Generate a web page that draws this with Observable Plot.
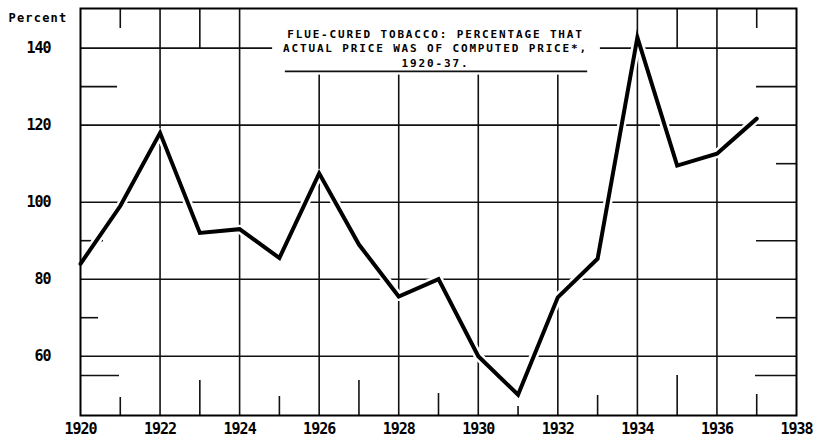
<!DOCTYPE html>
<html>
<head>
<meta charset="utf-8">
<script src="https://cdn.jsdelivr.net/npm/d3@7"></script>
<script src="https://cdn.jsdelivr.net/npm/@observablehq/plot@0.6"></script>
<style>
  html, body { margin: 0; padding: 0; background: #fff; }
  #chart svg { display: block; }
</style>
</head>
<body>
<div id="chart"></div>
<script>
// ---- data ----
const years = [1920, 1921, 1922, 1923, 1924, 1925, 1926, 1927, 1928, 1929, 1930, 1931, 1932, 1933, 1934, 1935, 1936, 1937];
const percent = [84, 99, 118, 92, 93, 85.5, 107.5, 89, 75.5, 80, 60, 50, 75.3, 85.3, 142.8, 109.5, 112.6, 121.7];
const xTicks = [1920, 1922, 1924, 1926, 1928, 1930, 1932, 1934, 1936, 1938];
const yTicks = [60, 80, 100, 120, 140];
const gridYears = [1922, 1924, 1926, 1928, 1930, 1932, 1934, 1936];
const oddYears = [1921, 1923, 1925, 1927, 1929, 1931, 1933, 1935, 1937];
const topStubYears = [1921, 1923, 1935, 1937];
const leftStubValues = [130, 90, 70, 55];
const rightStubValues = [130, 110, 90, 70, 55];
const titleLines = ["FLUE-CURED TOBACCO: PERCENTAGE THAT", "ACTUAL PRICE WAS OF COMPUTED PRICE*,", "1920-37."];
const unitLabel = "Percent";

const data = years.map((y, i) => ({year: y, value: percent[i]}));

// ---- layout ----
const X0 = 1920, X1 = 1938, Y0 = 44.6, Y1 = 150.3;
const pxPerYear = (796 - 80) / 18;
const pxPerUnit = 3.85;
const bottomStubPx = [18, 35, 19, 35, 22, 9, 20, 40, 21];
const topStubPx = [20, 40, 40, 20];
const leftStubPx = [37, 23, 18, 39];
const rightStubPx = [40, 20, 40, 20, 41];
const ink = "#111";

const chart = Plot.plot({
  width: 817,
  height: 442,
  marginLeft: 80,
  marginRight: 21,
  marginTop: 8,
  marginBottom: 27,
  style: {fontFamily: "'DejaVu Sans Mono', monospace", fontWeight: "bold", fontSize: "15px", color: "#000", background: "#fff"},
  x: {domain: [X0, X1], label: null},
  y: {domain: [Y0, Y1], label: null},
  marks: [
    // grid
    Plot.ruleY(yTicks, {stroke: ink, strokeWidth: 1.6}),
    Plot.ruleX(gridYears, {stroke: ink, strokeWidth: 1.6}),
    // odd-year stubs (bottom)
    Plot.ruleX(oddYears, {x: d => d, y1: Y0, y2: (d, i) => Y0 + bottomStubPx[i] / pxPerUnit, stroke: ink, strokeWidth: 1.6}),
    // top stubs
    Plot.ruleX(topStubYears, {x: d => d, y1: Y1, y2: (d, i) => Y1 - topStubPx[i] / pxPerUnit, stroke: ink, strokeWidth: 1.6}),
    // side stubs
    Plot.ruleY(leftStubValues, {y: d => d, x1: X0, x2: (d, i) => X0 + leftStubPx[i] / pxPerYear, stroke: ink, strokeWidth: 1.6}),
    Plot.ruleY(rightStubValues, {y: d => d, x1: X1, x2: (d, i) => X1 - rightStubPx[i] / pxPerYear, stroke: ink, strokeWidth: 1.6}),
    // title mask
    Plot.rect([0], {x1: 1924.83, x2: 1933.07, y1: 133.0, y2: Y1, fill: "#fff"}),
    // title underline
    Plot.ruleY([133.95], {x1: 1925.15, x2: 1932.75, stroke: ink, strokeWidth: 1.8}),
    // title
    Plot.text([titleLines.join("\n")], {
      frameAnchor: "top", textAnchor: "middle", lineAnchor: "top",
      dx: -3, dy: 19, fontSize: 11, fontWeight: "bold", lineHeight: 1.32, fill: "#000"
    }),
    // series
    Plot.line(data, {x: "year", y: "value", stroke: "#fff", strokeWidth: 9}),
    Plot.line(data, {x: "year", y: "value", stroke: "#000", strokeWidth: 4, strokeLinejoin: "miter", strokeMiterlimit: 6}),
    Plot.frame({stroke: "#000", strokeWidth: 2}),
    // axes
    Plot.axisX(xTicks, {tickSize: 0, tickPadding: 8, tickFormat: d => String(d), label: null}),
    Plot.axisY(yTicks, {tickSize: 0, tickPadding: 30, label: null}),
    Plot.text([unitLabel], {
      frameAnchor: "top-left", textAnchor: "start", lineAnchor: "middle",
      dx: -72, dy: 10, fontSize: 12, fontWeight: "bold", fill: "#000"
    })
  ]
});
document.getElementById("chart").appendChild(chart);

// typewriter-like letter spacing
d3.select(chart).selectAll("text").each(function() {
  const t = this.textContent;
  if (t.includes("FLUE")) this.style.letterSpacing = "1.85px";
  else if (t === unitLabel) this.style.letterSpacing = "1.2px";
  else if (/^\d+$/.test(t.trim())) this.style.letterSpacing = "-1px";
});
</script>
</body>
</html>
